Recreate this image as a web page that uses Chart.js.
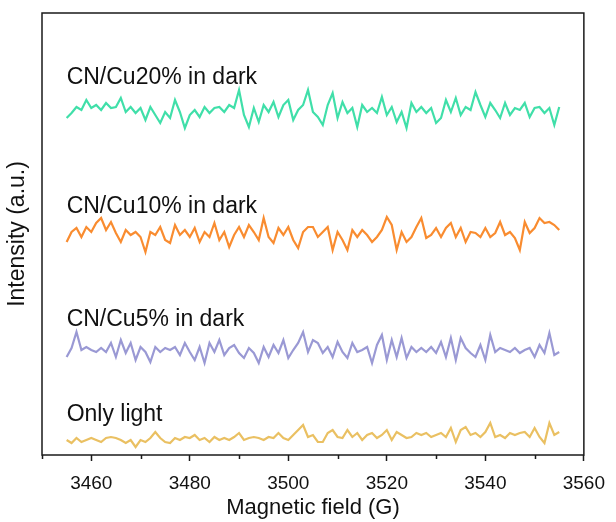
<!DOCTYPE html>
<html>
<head>
<meta charset="utf-8">
<script src="https://cdn.jsdelivr.net/npm/chart.js@4.4.0/dist/chart.umd.min.js"></script>
<style>
  html, body { margin: 0; padding: 0; background: #fff; }
</style>
</head>
<body>
<canvas id="epr" width="616" height="522"></canvas>
<script>
// EPR spectra, one reading per gauss from 3455 G to 3555 G
const fieldStart = 3455;
const fieldStep = 1;

const cu20 = [337,342,348,345,355,347,350,345,352,347,348,357,343,348,342,347,335,348,340,332,343,337,355,343,327,340,345,338,348,342,347,348,343,350,347,365,340,328,347,333,350,343,353,338,350,355,335,345,350,365,343,
  338,330,350,362,337,353,342,347,328,350,343,347,342,358,340,348,333,343,327,352,343,348,342,347,332,337,355,343,357,340,348,345,363,350,338,352,345,337,352,340,347,345,352,338,347,348,342,347,330,348];

const cu10 = [213,223,227,218,228,223,232,237,225,233,222,213,225,220,223,218,203,223,220,228,215,212,230,220,225,218,227,213,223,218,232,215,223,208,220,228,218,230,223,215,237,218,212,227,220,228,215,207,223,228,228,
  218,223,228,205,223,215,205,225,218,225,220,213,218,225,238,230,205,223,213,218,228,237,217,220,227,218,227,232,218,227,213,223,222,218,227,218,222,233,220,223,217,205,233,222,227,237,232,233,230,225];

const cu5 = [98,107,123,105,108,105,103,107,103,112,98,115,102,112,95,108,103,93,108,103,107,105,108,100,112,103,95,108,92,112,103,115,100,107,110,102,97,107,102,92,108,98,110,102,115,97,105,112,123,103,115,
  112,102,108,98,113,103,97,112,103,105,108,92,110,120,95,115,98,117,97,108,103,107,103,108,102,113,98,117,95,117,107,102,98,110,95,120,103,107,105,103,107,102,105,107,98,110,102,122,100,103];

const onlyLight = [15,12,17,13,15,17,15,13,17,18,17,15,12,15,8,15,13,17,23,17,13,12,17,15,18,17,20,15,17,13,18,15,17,15,18,22,15,17,18,17,15,18,17,22,17,15,20,25,30,18,20,
  13,13,22,25,18,17,25,18,22,15,20,22,17,20,25,15,23,20,17,18,22,20,22,18,20,22,18,27,13,25,28,20,22,18,23,32,18,20,17,22,20,22,23,18,27,18,12,32,20,23];

const seriesNames = ['CN/Cu20% in dark', 'CN/Cu10% in dark', 'CN/Cu5% in dark', 'Only light'];
const seriesColors = ['#40dfa9', '#f98c30', '#9a99d4', '#eac062'];
const labelX = [3455, 3455, 3455, 3455];
const labelY = [377, 248, 135, 40];

const majorTicks = [3460, 3480, 3500, 3520, 3540, 3560];
const minorTicks = [3450, 3470, 3490, 3510, 3530, 3550];

const FONT = 'Arial, "Liberation Sans", sans-serif';
const field = cu20.map((_, i) => fieldStart + i * fieldStep);
const allSeries = [cu20, cu10, cu5, onlyLight];

const frame = {
  id: 'frame',
  afterDatasetsDraw(chart) {
    const { ctx, chartArea: a, scales: { x, y } } = chart;
    ctx.save();
    ctx.strokeStyle = '#1a1a1a';
    ctx.lineWidth = 1.5;
    ctx.strokeRect(a.left, a.top, a.right - a.left, a.bottom - a.top);
    // minor ticks
    ctx.beginPath();
    minorTicks.forEach(v => {
      const px = Math.round(x.getPixelForValue(v)) + 0.5;
      ctx.moveTo(px, a.bottom);
      ctx.lineTo(px, a.bottom + 4);
    });
    ctx.stroke();
    // series labels
    ctx.fillStyle = '#111';
    ctx.font = '23px ' + FONT;
    ctx.textBaseline = 'middle';
    ctx.textAlign = 'left';
    seriesNames.forEach((name, i) => {
      ctx.fillText(name, x.getPixelForValue(labelX[i]), y.getPixelForValue(labelY[i]));
    });
    ctx.restore();
  }
};

new Chart(document.getElementById('epr'), {
  type: 'line',
  data: {
    datasets: allSeries.map((vals, i) => ({
      label: seriesNames[i],
      data: vals.map((v, j) => ({ x: field[j], y: v })),
      borderColor: seriesColors[i],
      borderWidth: 2.2,
      pointRadius: 0,
      tension: 0,
      fill: false
    }))
  },
  options: {
    responsive: false,
    animation: false,
    devicePixelRatio: 1,
    layout: { padding: { left: 2, top: 13, right: 27, bottom: 0 } },
    plugins: { legend: { display: false }, tooltip: { enabled: false } },
    scales: {
      x: {
        type: 'linear',
        min: 3450,
        max: 3560,
        afterBuildTicks: s => { s.ticks = majorTicks.map(v => ({ value: v })); },
        afterFit: s => { s.height = 67; },
        ticks: { color: '#111', font: { family: FONT, size: 19 }, padding: 11, maxRotation: 0, callback: v => String(v) },
        grid: { display: true, drawOnChartArea: false, drawTicks: true, tickLength: 6, tickColor: '#1a1a1a', tickWidth: 1.5 },
        border: { display: false },
        title: { display: true, text: 'Magnetic field (G)', color: '#111', font: { family: FONT, size: 22 }, padding: { top: 0, bottom: 1 } }
      },
      y: {
        min: 0,
        max: 442,
        afterFit: s => { s.width = 40; },
        ticks: { display: false },
        grid: { display: false },
        border: { display: false },
        title: { display: true, text: 'Intensity (a.u.)', color: '#111', font: { family: FONT, size: 23 }, padding: { top: 2, bottom: 0 } }
      }
    }
  },
  plugins: [frame]
});
</script>
</body>
</html>
